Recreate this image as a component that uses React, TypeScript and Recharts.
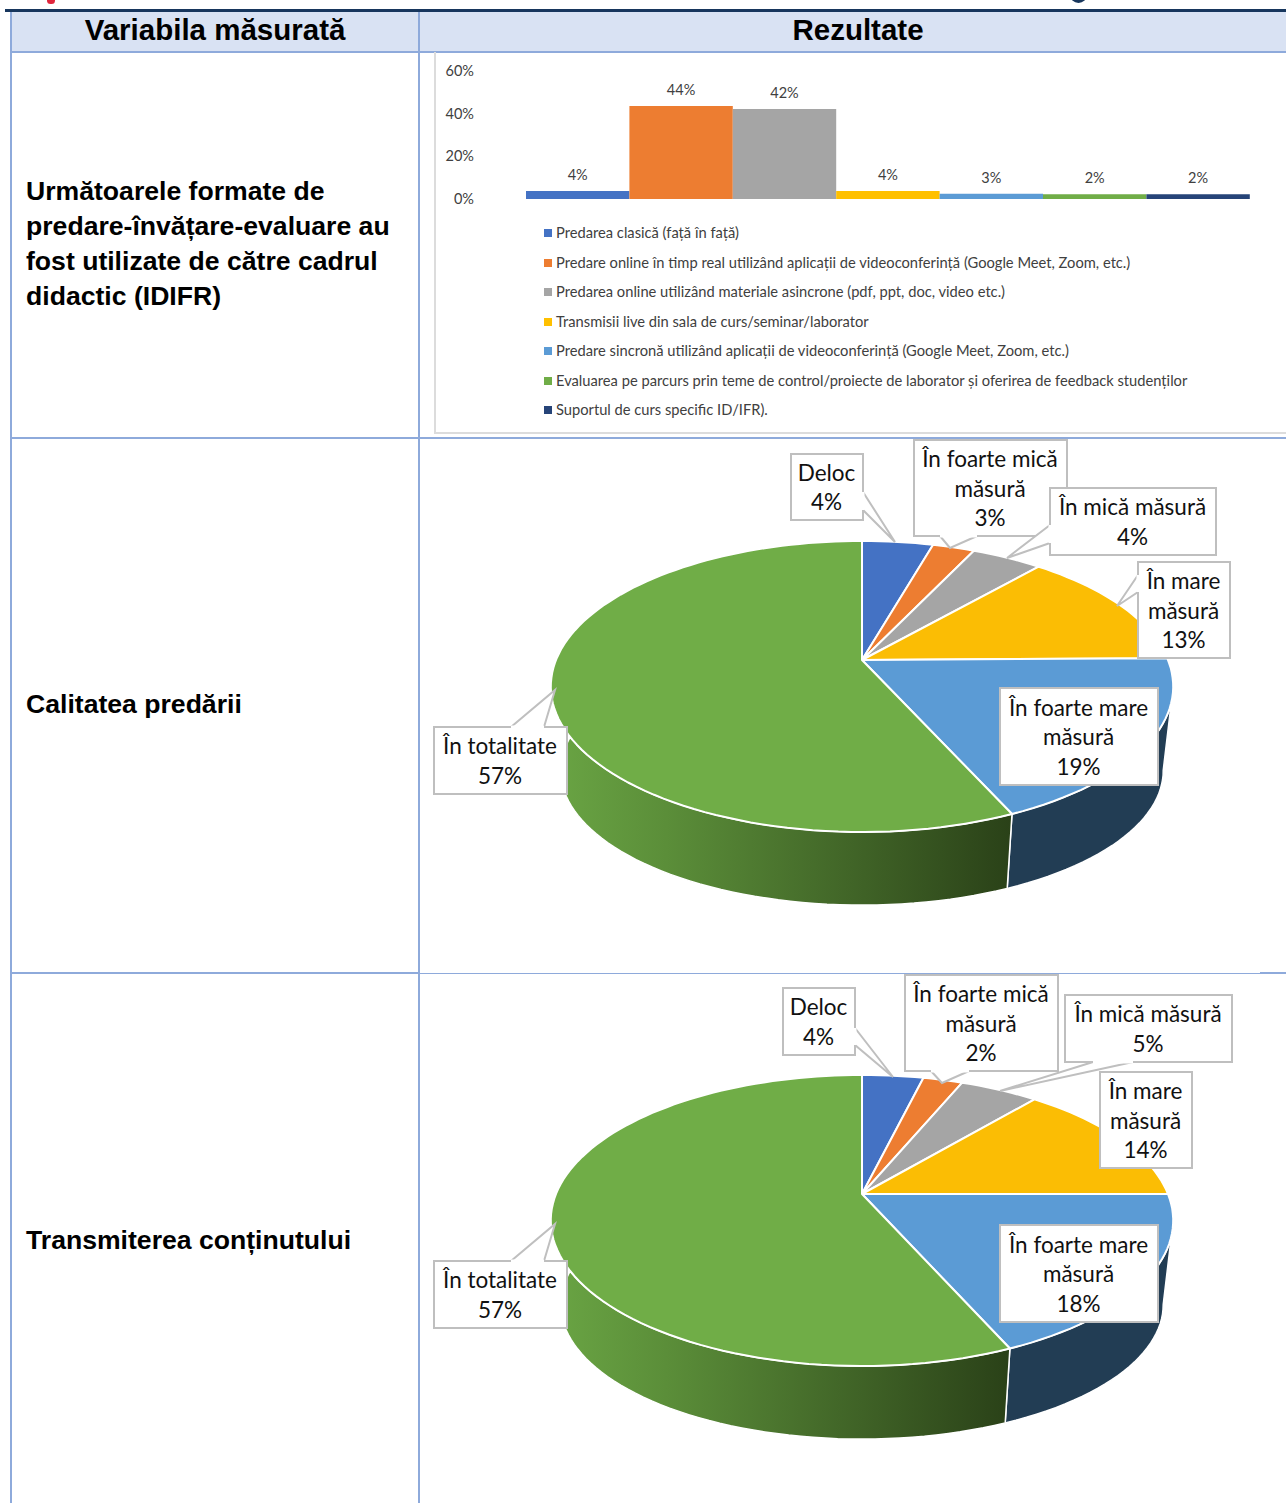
import React from "react";
import { BarChart, Bar, YAxis, XAxis, Legend, LabelList, PieChart, Pie } from "recharts";

// ---------- data ----------
const HEADERS = ["Variabila măsurată", "Rezultate"];
const ROW_TITLES = [
  ["Următoarele formate de", "predare-învățare-evaluare au", "fost utilizate de către cadrul", "didactic (IDIFR)"],
  ["Calitatea predării"],
  ["Transmiterea conținutului"],
];
const FORMAT_NAMES = [
  "Predarea clasică (față în față)",
  "Predare online în timp real utilizând aplicații de videoconferință (Google Meet, Zoom, etc.)",
  "Predarea online utilizând materiale asincrone (pdf, ppt, doc, video etc.)",
  "Transmisii live din sala de curs/seminar/laborator",
  "Predare sincronă utilizând aplicații de videoconferință (Google Meet, Zoom, etc.)",
  "Evaluarea pe parcurs prin teme de control/proiecte de laborator și oferirea de feedback studenților",
  "Suportul de curs specific ID/IFR).",
];
const FORMAT_VALUES = [3.7, 43.6, 42.2, 3.7, 2.5, 2.2, 2.2];
const FORMAT_COLORS = ["#4472c4", "#ed7d31", "#a5a5a5", "#ffc000", "#5b9bd5", "#70ad47", "#264478"];
const Y_TICKS = [0, 20, 40, 60];

const LEVEL_LINES = [
  ["Deloc"],
  ["În foarte mică", "măsură"],
  ["În mică măsură"],
  ["În mare", "măsură"],
  ["În foarte mare", "măsură"],
  ["În totalitate"],
];
const LEVEL_COLORS = ["#4472c4", "#ed7d31", "#a5a5a5", "#fbbd04", "#5b9bd5", "#70ad47"];
const WALL_COLORS = ["#223d54", "#223d54", "#223d54", "#223d54", "#223d54", "url(#greenWall)"];
const QUALITY_VALUES = [4.4, 2.6, 4.4, 13.4, 18.5, 56.7];
const CONTENT_VALUES = [3.8, 2.45, 4.85, 13.9, 18.4, 56.6];

// ---------- label box layout (page coordinates): box + optional leader ----------
type Box = { x: number; y: number; w: number; h: number; a?: number[]; b?: number[]; tip?: number[] };
const QUALITY_BOXES: Box[] = [
  { x: 791, y: 454, w: 72, h: 66, a: [863, 492], b: [863, 510], tip: [895, 542] },
  { x: 914, y: 440, w: 153, h: 96, a: [940, 536], b: [977, 536], tip: [950, 548] },
  { x: 1050, y: 488, w: 166, h: 67, a: [1050, 525], b: [1050, 543], tip: [1007, 558] },
  { x: 1138, y: 562, w: 92, h: 96, a: [1138, 575], b: [1138, 592], tip: [1117, 606] },
  { x: 1000, y: 688, w: 158, h: 97 },
  { x: 434, y: 727, w: 133, h: 67, a: [511, 727], b: [544, 727], tip: [555, 690] },
];
const CONTENT_BOXES: Box[] = [
  { x: 783, y: 988, w: 72, h: 67, a: [855, 1028], b: [855, 1045], tip: [893, 1077] },
  { x: 905, y: 975, w: 153, h: 96, a: [931, 1071], b: [969, 1071], tip: [942, 1083] },
  { x: 1065, y: 995, w: 167, h: 67, a: [1093, 1062], b: [1133, 1062], tip: [1000, 1091] },
  { x: 1100, y: 1072, w: 92, h: 96 },
  { x: 1000, y: 1225, w: 158, h: 97 },
  { x: 434, y: 1261, w: 133, h: 67, a: [511, 1261], b: [544, 1261], tip: [555, 1224] },
];

// ---------- perspective of the 3D pie ----------
const K = 0.182;
const RX = 306;
const RY = 140.7;
const TANGENT = (Math.asin(K) * 180) / Math.PI;
const rimPoint = (cx: number, cy: number, deg: number) => {
  const t = (deg * Math.PI) / 180;
  const d = 1 + K * Math.sin(t);
  return { x: (RX * Math.cos(t)) / d, y: (-RY * Math.sin(t)) / d, cx, cy };
};
const samples = (cx: number, cy: number, a0: number, a1: number) => {
  const n = Math.max(2, Math.ceil(Math.abs(a1 - a0) / 2));
  return Array.from({ length: n + 1 }, (_, i) => rimPoint(cx, cy, a0 + ((a1 - a0) * i) / n));
};

const TopSector = (p: any) => {
  const pts = samples(p.cx, p.cy, p.startAngle, p.endAngle);
  const d =
    `M${p.cx},${p.cy} ` + pts.map((q) => `L${(p.cx + q.x).toFixed(1)},${(p.cy + q.y).toFixed(1)}`).join(" ") + " Z";
  return <path d={d} fill={p.fill} stroke="#fff" strokeWidth={2} strokeLinejoin="round" />;
};
const WallSector = (p: any) => {
  // only the front of the rim has a visible wall: from one silhouette tangent to the other
  const a0 = Math.min(p.startAngle, -TANGENT);
  const a1 = Math.max(p.endAngle, -180 + -TANGENT);
  if (a0 <= a1) return <g />;
  const pts = samples(p.cx, p.cy, a0, a1);
  const up = pts.map((q) => `${(p.cx + q.x).toFixed(1)},${(p.cy + q.y).toFixed(1)}`);
  const low = pts
    .slice()
    .reverse()
    .map((q) => `${(p.cx + q.x * 0.968).toFixed(1)},${(p.cy + q.y * 0.925 + 86).toFixed(1)}`);
  const wall = p.wall ?? p.payload?.wall;
  return <path d={`M${up.join(" L")} L${low.join(" L")} Z`} fill={wall} stroke="#fff" strokeWidth={1.5} />;
};

const FONT = "Lato, sans-serif";

const makeLabel = (boxes: Box[], left: number, top: number, values: number[]) => (p: any) => {
  const i = p.index;
  const b = boxes[i];
  const x = b.x - left;
  const y = b.y - top;
  const lines = [...LEVEL_LINES[i], `${Math.round(values[i])}%`];
  const mid = y + b.h / 2;
  return (
    <g>
      {b.tip && (
        <polygon
          points={`${b.a![0] - left},${b.a![1] - top} ${b.tip[0] - left},${b.tip[1] - top} ${b.b![0] - left},${b.b![1] - top}`}
          fill="#fff"
          stroke="#bfbfbf"
          strokeWidth={2}
        />
      )}
      <rect x={x} y={y} width={b.w} height={b.h} fill="#fff" stroke="#bfbfbf" strokeWidth={2} />
      {b.tip && (
        <line
          x1={b.a![0] - left}
          y1={b.a![1] - top}
          x2={b.b![0] - left}
          y2={b.b![1] - top}
          stroke="#fff"
          strokeWidth={3}
        />
      )}
      {lines.map((t, k) => (
        <text
          key={k}
          x={x + b.w / 2 - 0.5}
          y={mid + (k - (lines.length - 1) / 2) * 29.5}
          textAnchor="middle"
          dominantBaseline="central"
          fontFamily={FONT}
          fontSize={22.5}
          fill="#111"
        >
          {t}
        </text>
      ))}
    </g>
  );
};

const Pie3D = ({ left, top, height, cy, values, boxes }: any) => {
  const rows = values.map((v: number, i: number) => ({
    name: LEVEL_LINES[i].join(" "),
    value: v,
    fill: LEVEL_COLORS[i],
    wall: WALL_COLORS[i],
  }));
  return (
    <div style={{ position: "absolute", left, top }}>
      <PieChart width={866} height={height} margin={{ top: 0, right: 0, bottom: 0, left: 0 }}>
        <defs>
          <linearGradient id="greenWall" x1="0" y1="0" x2="1" y2="0">
            <stop offset="0" stopColor="#6aa544" />
            <stop offset="0.25" stopColor="#5b8e39" />
            <stop offset="1" stopColor="#2a4118" />
          </linearGradient>
        </defs>
        <Pie
          data={rows}
          dataKey="value"
          nameKey="name"
          cx={442}
          cy={cy}
          outerRadius={140}
          startAngle={90}
          endAngle={-270}
          isAnimationActive={false}
          shape={WallSector}
          label={false}
          labelLine={false}
        />
        <Pie
          data={rows}
          dataKey="value"
          nameKey="name"
          cx={442}
          cy={cy}
          outerRadius={140}
          startAngle={90}
          endAngle={-270}
          isAnimationActive={false}
          shape={TopSector}
          labelLine={false}
          label={makeLabel(boxes, left, top, values)}
        />
      </PieChart>
    </div>
  );
};

const FormatLegend = () => (
  <div style={{ position: "relative", width: 740, height: 200 }}>
    {FORMAT_NAMES.map((n, i) => (
      <div
        key={n}
        style={{
          position: "absolute",
          left: 0,
          top: i * 29.5,
          height: 20,
          lineHeight: "20px",
          whiteSpace: "nowrap",
          fontFamily: FONT,
          fontSize: 14.7,
          color: "#404040",
        }}
      >
        <span
          style={{
            display: "inline-block",
            width: 8,
            height: 8,
            background: FORMAT_COLORS[i],
            marginRight: 4,
            verticalAlign: "1px",
          }}
        />
        {n}
      </div>
    ))}
  </div>
);

const formatRow = [
  FORMAT_VALUES.reduce((acc: any, v, i) => ({ ...acc, [`s${i}`]: v }), { name: "Formate" }),
];

const BORDER = "#8eaadb";
const abs = (left: number, top: number, width: number, height: number, background: string): React.CSSProperties => ({
  position: "absolute",
  left,
  top,
  width,
  height,
  background,
});

export default function App() {
  const sans = "'Liberation Sans', Arial, sans-serif";
  return (
    <div style={{ position: "absolute", left: 0, top: 0, width: 1286, height: 1503, overflow: "hidden", background: "#fff" }}>
      {/* cropped page header fragments */}
      <div style={{ ...abs(47, -3, 8, 7, "#e0263c"), borderRadius: 4 }} />
      <div style={{ ...abs(1070, -14, 17, 17, "#17365d"), borderRadius: 9 }} />
      {/* table */}
      <div style={abs(11, 12, 1275, 40, "#d9e2f3")} />
      <div style={abs(5, 9, 1281, 3, "#17365d")} />
      <div style={abs(10, 12, 2, 1491, BORDER)} />
      <div style={abs(418, 12, 2, 1491, BORDER)} />
      <div style={abs(10, 51, 1276, 2, BORDER)} />
      <div style={abs(10, 437, 1276, 2, BORDER)} />
      <div style={abs(10, 972, 410, 2, BORDER)} />
      <div style={abs(420, 973, 840, 1, BORDER)} />
      <div style={abs(1260, 972, 26, 2, BORDER)} />

      {[215, 858].map((x, i) => (
        <div
          key={i}
          style={{
            position: "absolute",
            left: x - 200,
            width: 400,
            top: 11,
            height: 38,
            lineHeight: "38px",
            textAlign: "center",
            fontFamily: sans,
            fontWeight: 700,
            fontSize: 29.5,
            color: "#000",
          }}
        >
          {HEADERS[i]}
        </div>
      ))}
      {[173.5, 687, 1223].map((y, r) =>
        ROW_TITLES[r].map((t, k) => (
          <div
            key={t}
            style={{
              position: "absolute",
              left: 26,
              top: y + k * 35.2,
              height: 35,
              lineHeight: "35px",
              whiteSpace: "nowrap",
              fontFamily: sans,
              fontWeight: 700,
              fontSize: 26.6,
              color: "#000",
            }}
          >
            {t}
          </div>
        ))
      )}

      {/* bar chart */}
      <div style={{ position: "absolute", left: 434, top: 52, width: 852, height: 382, boxSizing: "border-box", border: "2px solid #dcdcdc", borderTop: "none", borderRight: "none" }} />
      <div style={{ position: "absolute", left: 434, top: 52 }}>
        <BarChart
          width={852}
          height={381}
          data={formatRow}
          barCategoryGap={0}
          barGap={0}
          barSize={103.4}
          margin={{ top: 19, right: 36, bottom: 30, left: 0 }}
        >
          <XAxis dataKey="name" hide />
          <YAxis
            type="number"
            width={92}
            domain={[0, 60]}
            ticks={Y_TICKS}
            tickFormatter={(v: number) => `${v}%`}
            axisLine={false}
            tickLine={false}
            tickMargin={46}
            tick={{ fontFamily: FONT, fontSize: 14.5, fill: "#404040" }}
          />
          {FORMAT_VALUES.map((_, i) => (
            <Bar key={i} dataKey={`s${i}`} name={FORMAT_NAMES[i]} fill={FORMAT_COLORS[i]} isAnimationActive={false}>
              <LabelList
                dataKey={`s${i}`}
                position="top"
                offset={11}
                formatter={(v: number) => `${Math.round(v)}%`}
                style={{ fontFamily: FONT, fontSize: 14.5, fill: "#404040" }}
              />
            </Bar>
          ))}
          <Legend
            layout="horizontal"
            verticalAlign="bottom"
            height={204}
            content={<FormatLegend />}
            wrapperStyle={{ left: 110, top: 170, width: 740, height: 204, bottom: "auto" }}
          />
        </BarChart>
      </div>

      <Pie3D left={420} top={439} height={534} cy={221} values={QUALITY_VALUES} boxes={QUALITY_BOXES} />
      <Pie3D left={420} top={974} height={529} cy={220} values={CONTENT_VALUES} boxes={CONTENT_BOXES} />
    </div>
  );
}
